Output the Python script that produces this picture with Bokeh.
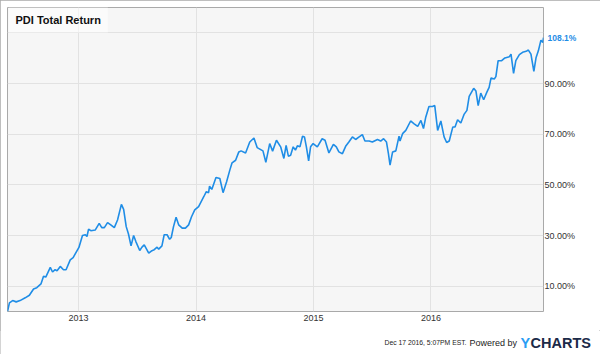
import pandas as pd
from bokeh.plotting import figure
from bokeh.layouts import column
from bokeh.models import (ColumnDataSource, Range1d, FixedTicker, PrintfTickFormatter,
                          DatetimeTickFormatter, Label, LinearAxis, Plot)
from bokeh.embed import file_html
from bokeh.resources import INLINE

# ---- data ----
series_name = "PDI Total Return"

dates_2012 = ["2012-05-25", "2012-05-31", "2012-06-10", "2012-06-21", "2012-07-03", "2012-07-19",
              "2012-08-01", "2012-08-14", "2012-08-24", "2012-09-06", "2012-09-14", "2012-09-21",
              "2012-10-05", "2012-10-12", "2012-10-20", "2012-10-26", "2012-11-05", "2012-11-15",
              "2012-11-23", "2012-12-06", "2012-12-15"]
values_2012 = [0.0, 3.4, 4.3, 3.8, 4.3, 5.4, 6.4, 8.9, 9.4, 10.9, 13.9, 13.6, 17.4, 15.6, 16.5,
               16.1, 17.8, 16.5, 16.5, 20.4, 21.3]

dates_2013 = ["2013-01-02", "2013-01-13", "2013-01-22", "2013-01-27", "2013-02-01", "2013-02-08",
              "2013-02-22", "2013-03-06", "2013-03-14", "2013-03-22", "2013-04-01", "2013-04-11",
              "2013-04-22", "2013-05-02", "2013-05-14", "2013-05-21", "2013-05-29", "2013-06-05",
              "2013-06-13", "2013-06-21", "2013-06-28", "2013-07-10", "2013-07-17", "2013-07-24",
              "2013-08-07", "2013-08-17", "2013-08-24", "2013-09-02", "2013-09-07", "2013-09-17",
              "2013-09-24", "2013-10-03", "2013-10-11", "2013-10-16", "2013-10-23", "2013-10-31",
              "2013-11-08", "2013-11-19", "2013-11-29", "2013-12-09", "2013-12-18", "2013-12-28"]
values_2013 = [25.3, 30.0, 30.3, 29.6, 32.5, 31.9, 32.2, 34.8, 33.1, 33.1, 35.1, 34.2, 33.1, 36.1,
               42.3, 40.3, 33.5, 30.6, 25.9, 30.0, 27.6, 24.1, 25.4, 26.3, 23.0, 24.0, 24.4, 25.4,
               24.6, 25.9, 30.3, 30.3, 28.5, 29.2, 33.5, 37.2, 34.2, 32.9, 32.9, 34.2, 37.4, 40.1]

dates_2014 = ["2014-01-09", "2014-01-25", "2014-02-02", "2014-02-09", "2014-02-12", "2014-02-19",
              "2014-03-04", "2014-03-16", "2014-03-26", "2014-04-06", "2014-04-16", "2014-04-23",
              "2014-05-04", "2014-05-14", "2014-05-21", "2014-06-04", "2014-06-17", "2014-06-30",
              "2014-07-10", "2014-07-28", "2014-08-06", "2014-08-18", "2014-08-27", "2014-09-08",
              "2014-09-21", "2014-10-01", "2014-10-08", "2014-10-15", "2014-10-22", "2014-10-30",
              "2014-11-06", "2014-11-12", "2014-11-20", "2014-11-28", "2014-12-04", "2014-12-10",
              "2014-12-17", "2014-12-23", "2014-12-31"]
values_2014 = [41.4, 45.3, 47.3, 46.9, 49.5, 48.2, 52.9, 52.5, 46.9, 51.2, 55.8, 58.7, 59.7, 63.0,
               63.4, 62.6, 66.9, 68.5, 64.7, 63.4, 58.9, 66.3, 63.3, 67.6, 65.0, 60.4, 65.6, 61.3,
               61.7, 65.0, 63.7, 65.4, 65.0, 69.2, 68.9, 65.0, 59.5, 65.0, 66.3]

dates_2015 = ["2015-01-13", "2015-01-28", "2015-02-06", "2015-02-18", "2015-03-04", "2015-03-13",
              "2015-03-21", "2015-04-01", "2015-04-11", "2015-04-21", "2015-05-02", "2015-05-12",
              "2015-05-23", "2015-06-02", "2015-06-10", "2015-06-23", "2015-07-03", "2015-07-19",
              "2015-07-29", "2015-08-07", "2015-08-16", "2015-08-22", "2015-08-27", "2015-09-04",
              "2015-09-14", "2015-09-24", "2015-09-27", "2015-10-05", "2015-10-15", "2015-10-30",
              "2015-11-10", "2015-11-21", "2015-12-01", "2015-12-09", "2015-12-16", "2015-12-26"]
values_2015 = [65.0, 68.2, 67.6, 62.6, 66.0, 65.0, 63.0, 62.3, 65.2, 66.9, 68.9, 67.9, 68.9, 69.8,
               67.3, 67.3, 66.9, 67.9, 67.3, 68.2, 66.9, 62.3, 57.8, 63.0, 63.4, 69.2, 67.3, 70.2,
               71.5, 75.2, 74.1, 73.1, 75.4, 72.2, 76.7, 80.9]

dates_2016 = ["2016-01-06", "2016-01-13", "2016-01-22", "2016-02-01", "2016-02-11", "2016-02-19",
              "2016-02-27", "2016-03-09", "2016-03-16", "2016-03-24", "2016-04-03", "2016-04-13",
              "2016-04-22", "2016-04-29", "2016-05-13", "2016-05-20", "2016-05-27", "2016-06-04",
              "2016-06-13", "2016-06-23", "2016-06-30", "2016-07-06", "2016-07-16", "2016-07-21",
              "2016-07-28", "2016-08-08", "2016-08-18", "2016-09-01", "2016-09-06", "2016-09-14",
              "2016-09-21", "2016-10-02", "2016-10-12", "2016-10-23", "2016-10-30", "2016-11-07",
              "2016-11-16", "2016-11-23", "2016-11-30", "2016-12-08", "2016-12-14", "2016-12-16"]
values_2016 = [80.9, 81.3, 71.5, 75.2, 68.9, 66.7, 67.3, 72.8, 72.8, 75.7, 74.4, 77.8, 79.4, 84.9,
               88.1, 87.0, 81.3, 86.2, 83.6, 86.6, 88.5, 92.2, 91.8, 92.7, 99.0, 99.0, 100.1, 100.6,
               101.6, 94.0, 99.0, 101.4, 102.3, 102.7, 103.2, 101.6, 94.8, 100.3, 102.9, 107.1,
               106.2, 108.1]

x_start, x_end = "2012-05-25", "2016-12-16"
y_start, y_end = 0, 120
x_tick_dates = ["2013-01-01", "2014-01-01", "2015-01-01", "2016-01-01"]
y_ticks = [10, 30, 50, 70, 90, 110]
footer_date = "Dec 17 2016, 5:07PM EST."
footer_powered = "Powered by"
logo_y = "Y"
logo_rest = "CHARTS"

# ---- build ----
all_dates = dates_2012 + dates_2013 + dates_2014 + dates_2015 + dates_2016
all_values = values_2012 + values_2013 + values_2014 + values_2015 + values_2016
src = ColumnDataSource(dict(date=pd.to_datetime(all_dates), value=all_values))
last_value = all_values[-1]

FONT = "Liberation Sans"
BLUE = "#1f8de6"

p = figure(width=600, height=330, x_axis_type="datetime", y_axis_location="right",
           output_backend="svg", toolbar_location=None,
           x_range=Range1d(pd.Timestamp(x_start), pd.Timestamp(x_end)),
           y_range=Range1d(y_start, y_end),
           min_border_left=7, min_border_right=57, min_border_top=7, min_border_bottom=19)

p.background_fill_color = "#f6f6f6"
p.border_fill_color = "white"
p.outline_line_color = "#a9a9a9"
p.outline_line_width = 1

p.line("date", "value", source=src, line_color=BLUE, line_width=1.6)

xaxis = p.xaxis[0]
yaxis = p.yaxis[0]
xt = [pd.Timestamp(d).value // 10**6 for d in x_tick_dates]
xaxis.ticker = FixedTicker(ticks=xt)
xaxis.formatter = DatetimeTickFormatter(years="%Y", months="%Y", days="%Y", hours="%Y")
yaxis.ticker = FixedTicker(ticks=y_ticks)
yaxis.formatter = PrintfTickFormatter(format="%.2f%%")

for ax in (xaxis, yaxis):
    ax.axis_line_color = None
    ax.major_tick_line_color = None
    ax.minor_tick_line_color = None
    ax.major_tick_out = 0
    ax.minor_tick_out = 0
    ax.major_label_text_font = FONT
    ax.major_label_text_font_size = "9px"
    ax.major_label_text_color = "#333333"
xaxis.major_label_standoff = 3

p.xgrid.grid_line_color = "#e2e2e2"
p.ygrid.grid_line_color = "#e2e2e2"

# last-value tag: an inner right axis with a single tick at the last value
tag_axis = LinearAxis(ticker=FixedTicker(ticks=[last_value]),
                      formatter=PrintfTickFormatter(format="%.1f%%"),
                      axis_line_color=None, major_tick_line_color=None,
                      minor_tick_line_color=None, major_tick_out=0, minor_tick_out=0,
                      major_label_standoff=4, major_label_text_font=FONT,
                      major_label_text_font_style="bold", major_label_text_font_size="8.5px",
                      major_label_text_color=BLUE, level="overlay")
axis_props = LinearAxis.properties()
if "major_label_background_fill_color" in axis_props:
    tag_axis.major_label_background_fill_color = "white"
    if "major_label_border_line_color" in axis_props:
        tag_axis.major_label_border_line_color = "#9fb3c8"
else:
    yaxis.major_label_overrides = {110: ""}
p.add_layout(tag_axis, "right")
p.right = [tag_axis, yaxis]
yaxis.major_label_standoff = -35

# title box
p.add_layout(Label(x=1, y=279, x_units="screen", y_units="screen", text=series_name,
                   text_font=FONT, text_font_style="bold", text_font_size="11px",
                   text_color="#111111", text_baseline="bottom",
                   background_fill_color="white", background_fill_alpha=0.55,
                   padding=7))

# footer strip
f = figure(width=600, height=24, output_backend="svg", toolbar_location=None,
           x_range=Range1d(0, 1), y_range=Range1d(0, 1),
           min_border_left=0, min_border_right=0, min_border_top=0, min_border_bottom=0)
f.axis.visible = False
f.grid.visible = False
f.outline_line_color = None
f.background_fill_color = "white"
f.border_fill_color = "white"

f.add_layout(Label(x=384, y=12, x_units="screen", y_units="screen", text=footer_date,
                   text_font=FONT, text_font_size="6.8px", text_color="#222222",
                   text_baseline="middle"))
f.add_layout(Label(x=469, y=12, x_units="screen", y_units="screen", text=footer_powered,
                   text_font=FONT, text_font_size="9px", text_color="#222222",
                   text_baseline="middle"))
f.add_layout(Label(x=520, y=12, x_units="screen", y_units="screen", text=logo_y,
                   text_font=FONT, text_font_style="bold", text_font_size="14.5px",
                   text_color="#2a9df4", text_baseline="middle"))
f.add_layout(Label(x=530, y=12, x_units="screen", y_units="screen", text=logo_rest,
                   text_font=FONT, text_font_style="bold", text_font_size="14.5px",
                   text_color="#1b2a48", text_baseline="middle"))

if "frame_align" in Plot.properties():
    f.frame_align = False
    p.frame_align = False
    layout = column(p, f, spacing=0)
    layout.styles = {"outline": "1px solid #a9a9a9", "outline-offset": "-1px"}
    root = layout
else:
    root = [p, f]

open("out.html", "w").write(file_html(root, INLINE))
